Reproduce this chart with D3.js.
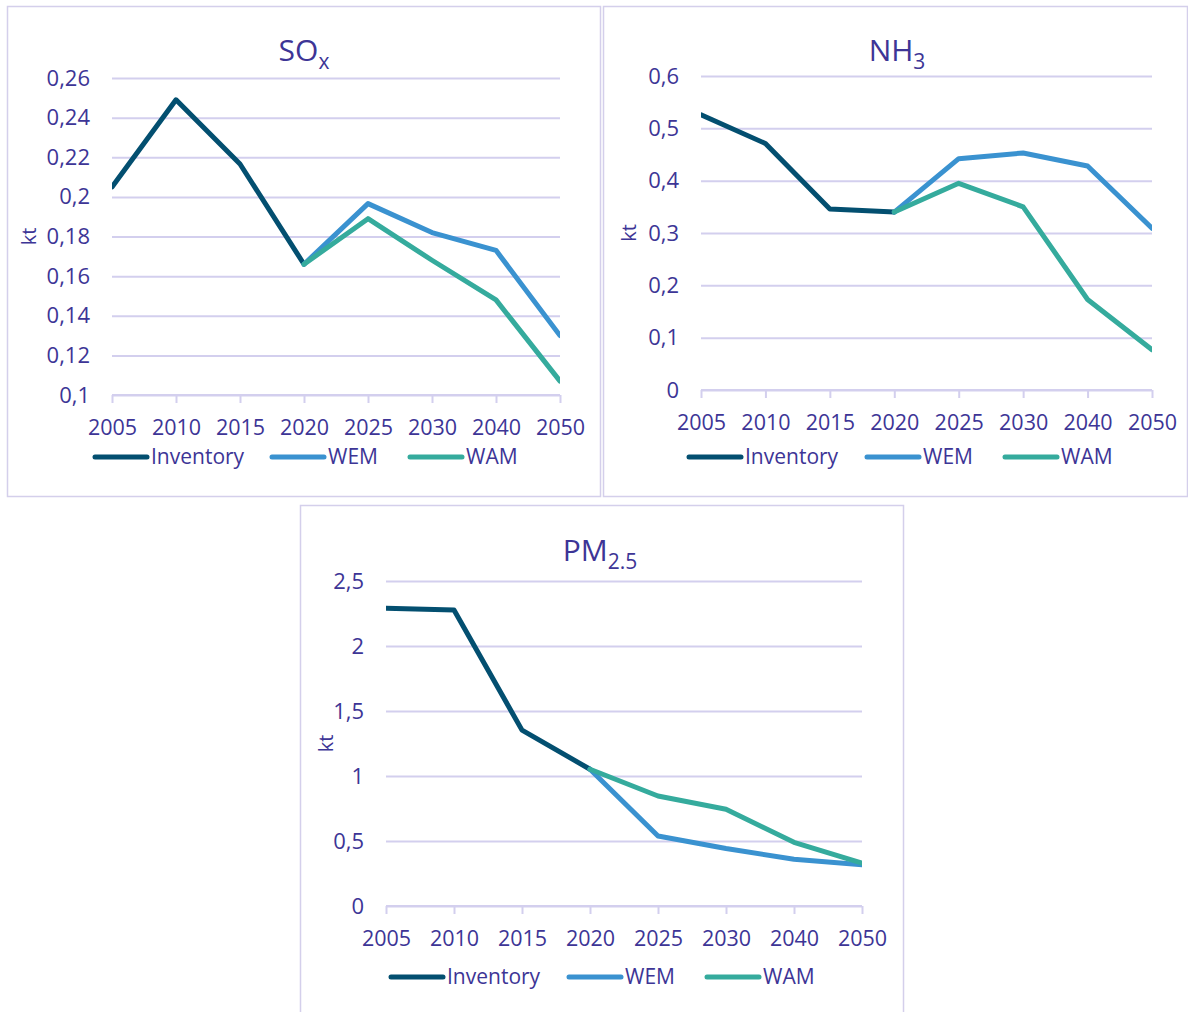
<!DOCTYPE html>
<html>
<head>
<meta charset="utf-8">
<script src="https://cdn.jsdelivr.net/npm/d3@7"></script>
<style>
  html, body { margin: 0; padding: 0; background: #ffffff; }
  svg { display: block; }
  text { font-family: "Open Sans", "Noto Sans", sans-serif; }
</style>
</head>
<body>
<svg id="chart" width="1188" height="1012"></svg>
<script>
// ---------- DATA ----------
const years = ["2005", "2010", "2015", "2020", "2025", "2030", "2040", "2050"];
const seriesNames = ["Inventory", "WEM", "WAM"];

const soxInventory = [0.205, 0.249, 0.2166, 0.166, null, null, null, null];
const soxWEM       = [null, null, null, 0.166, 0.1966, 0.182, 0.173, 0.130];
const soxWAM       = [null, null, null, 0.166, 0.189, 0.168, 0.148, 0.107];
const soxTicks     = [0.1, 0.12, 0.14, 0.16, 0.18, 0.2, 0.22, 0.24, 0.26];

const nh3Inventory = [0.526, 0.471, 0.346, 0.340, null, null, null, null];
const nh3WEM       = [null, null, null, 0.340, 0.442, 0.453, 0.428, 0.309];
const nh3WAM       = [null, null, null, 0.340, 0.395, 0.350, 0.173, 0.077];
const nh3Ticks     = [0, 0.1, 0.2, 0.3, 0.4, 0.5, 0.6];

const pmInventory  = [2.29, 2.277, 1.353, 1.052, null, null, null, null];
const pmWEM        = [null, null, null, 1.052, 0.538, 0.442, 0.360, 0.318];
const pmWAM        = [null, null, null, 1.052, 0.846, 0.744, 0.490, 0.330];
const pmTicks      = [0, 0.5, 1, 1.5, 2, 2.5];

// ---------- STYLE ----------
const colors = { Inventory: "#034f70", WEM: "#3a92d0", WAM: "#35ab9d" };
const textColor = "#3d3596";
const gridColor = "#d3cfee";
const borderColor = "#d4cfeb";

const svg = d3.select("#chart");
const fmt = v => d3.format("~g")(v).replace(".", ",");

const charts = [
  { title: "SO", sub: "x", series: [soxInventory, soxWEM, soxWAM], ticks: soxTicks,
    domain: [0.1, 0.26], panel: [7, 6, 593, 490],
    x0: 112, x1: 560, yTop: 78, yBot: 395, titleX: 304, titleY: 61,
    ktX: 29, legendY: 457, legendX: [95, 272, 410] },
  { title: "NH", sub: "3", series: [nh3Inventory, nh3WEM, nh3WAM], ticks: nh3Ticks,
    domain: [0, 0.6], panel: [603, 6, 584, 490],
    x0: 701, x1: 1152, yTop: 76, yBot: 390, titleX: 897, titleY: 61,
    ktX: 629, legendY: 457, legendX: [689, 867, 1005] },
  { title: "PM", sub: "2.5", series: [pmInventory, pmWEM, pmWAM], ticks: pmTicks,
    domain: [0, 2.5], panel: [300, 505, 603, 520],
    x0: 386, x1: 862, yTop: 581, yBot: 906, titleX: 600, titleY: 561,
    ktX: 326, legendY: 977, legendX: [391, 569, 707] }
];

charts.forEach((c, ci) => {
  const g = svg.append("g");

  // panel border
  g.append("rect")
    .attr("x", c.panel[0] + 0.5).attr("y", c.panel[1] + 0.5)
    .attr("width", c.panel[2]).attr("height", c.panel[3])
    .attr("fill", "none").attr("stroke", borderColor).attr("stroke-width", 1.5);

  const x = d3.scalePoint().domain(years).range([c.x0, c.x1]);
  const y = d3.scaleLinear().domain(c.domain).range([c.yBot, c.yTop]);

  // gridlines
  const grid = g.append("g").attr("transform", `translate(${c.x0},0)`)
    .call(d3.axisLeft(y).tickValues(c.ticks).tickSize(-(c.x1 - c.x0)).tickFormat(""));
  grid.select(".domain").remove();
  grid.selectAll(".tick line").attr("stroke", gridColor).attr("stroke-width", 2);

  // y tick labels
  const ya = g.append("g").attr("transform", `translate(${c.x0 - 22},0)`)
    .call(d3.axisLeft(y).tickValues(c.ticks).tickSize(0).tickFormat(fmt));
  ya.select(".domain").remove();
  ya.selectAll("text").attr("fill", textColor).attr("font-size", 22)
    .attr("font-family", "'Open Sans', sans-serif").attr("x", 0);

  // x axis
  const xa = g.append("g").attr("transform", `translate(0,${c.yBot})`)
    .call(d3.axisBottom(x).tickSize(8).tickPadding(17));
  xa.select(".domain").attr("stroke", gridColor).attr("stroke-width", 2)
    .attr("d", `M${c.x0},0H${c.x1}`);
  xa.selectAll(".tick line").attr("stroke", gridColor).attr("stroke-width", 2);
  xa.selectAll("text").attr("fill", textColor).attr("font-size", 21.5)
    .attr("font-family", "'Open Sans', sans-serif");

  // y axis title
  g.append("text")
    .attr("transform", `translate(${c.ktX},${(c.yTop + c.yBot) / 2}) rotate(-90)`)
    .attr("text-anchor", "middle").attr("dy", "0.35em")
    .attr("fill", textColor).attr("font-size", 20).text("kt");

  // title
  const t = g.append("text").attr("x", c.titleX).attr("y", c.titleY)
    .attr("text-anchor", "middle").attr("fill", textColor).attr("font-size", 30);
  t.append("tspan").text(c.title);
  t.append("tspan").attr("font-size", 21).attr("dy", 8).text(c.sub);

  // clip
  const clipId = "clip" + ci;
  svg.append("clipPath").attr("id", clipId).append("rect")
    .attr("x", c.x0).attr("y", c.yTop - 40)
    .attr("width", c.x1 - c.x0).attr("height", c.yBot - c.yTop + 80);

  const line = d3.line()
    .defined(d => d.v !== null)
    .x(d => x(d.year)).y(d => y(d.v));

  seriesNames.forEach((name, si) => {
    const pts = years.map((yr, i) => ({ year: yr, v: c.series[si][i] }));
    g.append("path")
      .attr("clip-path", `url(#${clipId})`)
      .attr("d", line(pts))
      .attr("fill", "none")
      .attr("stroke", colors[name])
      .attr("stroke-width", 5)
      .attr("stroke-linejoin", "round")
      .attr("stroke-linecap", "round");
  });

  // legend
  seriesNames.forEach((name, si) => {
    const lx = c.legendX[si];
    g.append("line")
      .attr("x1", lx).attr("x2", lx + 52)
      .attr("y1", c.legendY).attr("y2", c.legendY)
      .attr("stroke", colors[name]).attr("stroke-width", 5)
      .attr("stroke-linecap", "round");
    g.append("text")
      .attr("x", lx + 56).attr("y", c.legendY).attr("dy", "0.35em")
      .attr("fill", textColor).attr("font-size", 21).text(name);
  });
});
</script>
</body>
</html>
